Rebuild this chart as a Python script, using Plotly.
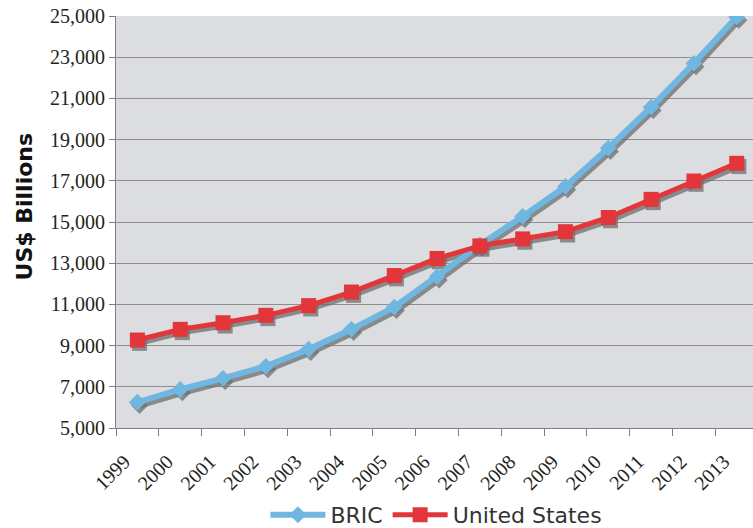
import plotly.graph_objects as go

# Annual GDP, US$ billions
years = ["1999", "2000", "2001", "2002", "2003", "2004", "2005", "2006",
         "2007", "2008", "2009", "2010", "2011", "2012", "2013"]
bric = [6250, 6870, 7410, 7990, 8820, 9790, 10860, 12340,
        13880, 15270, 16720, 18580, 20570, 22700, 24950]
united_states = [9270, 9790, 10110, 10470, 10940, 11600, 12400, 13230,
                 13840, 14180, 14530, 15220, 16100, 16990, 17850]
y_ticks = list(range(5000, 25001, 2000))

BLUE = "#6fb6e0"
RED = "#e2363b"
SHADOW = "rgba(110,110,110,0.75)"

xpos = list(range(len(years)))
# drop shadow offset (slightly right and down)
dx, dy = 0.05, -160

fig = go.Figure()

for vals, sym, size, width in [(united_states, "square", 15, 5),
                               (bric, "diamond", 13, 6)]:
    fig.add_trace(go.Scatter(
        x=[x + dx for x in xpos], y=[v + dy for v in vals],
        mode="lines+markers", showlegend=False, hoverinfo="skip",
        line=dict(color=SHADOW, width=width),
        marker=dict(symbol=sym, size=size, color=SHADOW),
    ))

fig.add_trace(go.Scatter(
    x=xpos, y=bric, name="BRIC", mode="lines+markers",
    line=dict(color=BLUE, width=6),
    marker=dict(symbol="diamond", size=13, color=BLUE),
))
fig.add_trace(go.Scatter(
    x=xpos, y=united_states, name="United States", mode="lines+markers",
    line=dict(color=RED, width=5),
    marker=dict(symbol="square", size=15, color=RED),
))

fig.update_layout(
    width=753, height=528,
    margin=dict(l=116, r=0, t=16, b=100, autoexpand=False),
    paper_bgcolor="white",
    plot_bgcolor="#dcdde0",
    font=dict(family="Liberation Serif", color="#231f20"),
    legend=dict(
        orientation="h", x=0.503, xanchor="center", y=-0.211, yanchor="middle",
        font=dict(family="DejaVu Sans", size=22, color="#333333"),
        itemwidth=55, bgcolor="rgba(0,0,0,0)",
    ),
    xaxis=dict(
        range=[-0.5, 14.38], automargin=False,
        tickmode="array", tickvals=xpos, ticktext=years,
        tickangle=-45, tickfont=dict(size=20, family="Liberation Serif"),
        ticklabelstandoff=13, ticklabelshift=-13,
        ticks="", showgrid=False, zeroline=False,
        showline=True, linecolor="#7f7f7f", linewidth=1,
        minor=dict(tickmode="array", tickvals=[x - 0.5 for x in xpos] + [14.5],
                   ticks="outside", ticklen=7, tickcolor="#7f7f7f",
                   showgrid=False),
    ),
    yaxis=dict(
        range=[5000, 25000], automargin=False,
        tickmode="array", tickvals=y_ticks, tickformat=",",
        tickfont=dict(size=20, family="Liberation Serif"),
        ticks="outside", ticklen=6, tickcolor="#7f7f7f",
        showgrid=True, gridcolor="#8e8e8e", gridwidth=1,
        zeroline=False, showline=True, linecolor="#7f7f7f", linewidth=1,
    ),
    annotations=[dict(
        text="<b>US$ Billions</b>", textangle=-90,
        xref="paper", yref="paper", x=-0.144, y=0.536,
        xanchor="center", yanchor="middle", showarrow=False,
        font=dict(family="DejaVu Sans", size=22, color="#111111"),
    )],
)

fig.write_html("out.html")
